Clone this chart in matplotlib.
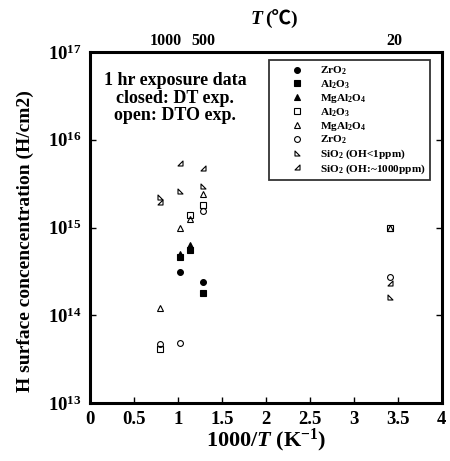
import matplotlib
matplotlib.use("Agg")
import matplotlib.pyplot as plt
from matplotlib.path import Path
from matplotlib.ticker import FixedLocator, NullLocator

plt.rcParams['font.family'] = ['Liberation Serif', 'Noto Sans CJK JP', 'DejaVu Sans']
plt.rcParams['font.weight'] = 'bold'
plt.rcParams['axes.labelweight'] = 'bold'
plt.rcParams['mathtext.fontset'] = 'custom'
plt.rcParams['mathtext.rm'] = 'Liberation Serif:bold'
plt.rcParams['mathtext.it'] = 'Liberation Serif:italic:bold'
plt.rcParams['mathtext.bf'] = 'Liberation Serif:bold'

# ---- data (1000/T in K^-1, H surface concentration in H/cm2) ----
zro2_dt_x = [1.02, 1.14, 1.29]
zro2_dt_y = [3.1e14, 5.6e14, 2.4e14]
al2o3_dt_x = [1.02, 1.14, 1.29]
al2o3_dt_y = [4.6e14, 5.5e14, 1.8e14]
mgal_dt_x = [1.02, 1.14]
mgal_dt_y = [5.0e14, 6.3e14]

al2o3_dto_x = [0.79, 1.14, 1.29, 3.41]
al2o3_dto_y = [4.1e13, 1.4e15, 1.8e15, 1.0e15]
mgal_dto_x = [0.79, 1.02, 1.14, 1.29, 3.41]
mgal_dto_y = [1.2e14, 1.0e15, 1.25e15, 2.4e15, 1.0e15]
zro2_dto_x = [0.79, 1.02, 1.29, 3.41]
zro2_dto_y = [4.7e13, 4.8e13, 1.55e15, 2.7e14]
sio2_low_x = [0.79, 1.02, 1.29, 3.41]
sio2_low_y = [2.2e15, 2.6e15, 3.0e15, 1.6e14]
sio2_high_x = [0.79, 1.02, 1.29, 3.41]
sio2_high_y = [1.95e15, 5.5e15, 4.8e15, 2.3e14]

top_labels = ['1000', '500', '20']
top_label_pos = [0.86, 1.29, 3.46]

# right-triangle markers
tri_bl = Path([(-1, -1), (-1, 1), (1, -1), (-1, -1)],
              [Path.MOVETO, Path.LINETO, Path.LINETO, Path.CLOSEPOLY])
tri_br = Path([(1, -1), (1, 1), (-1, -1), (1, -1)],
              [Path.MOVETO, Path.LINETO, Path.LINETO, Path.CLOSEPOLY])

fig = plt.figure(figsize=(4.5, 4.61), dpi=100)
ax = fig.add_axes([0.2, 0.126, 0.782, 0.761])

ms = 4.2
mew = 0.8
series = [
    (zro2_dt_x, zro2_dt_y, 'o', 'k', ms, r'$\mathregular{ZrO_2}$'),
    (al2o3_dt_x, al2o3_dt_y, 's', 'k', ms, r'$\mathregular{Al_2O_3}$'),
    (mgal_dt_x, mgal_dt_y, '^', 'k', ms, r'$\mathregular{MgAl_2O_4}$'),
    (al2o3_dto_x, al2o3_dto_y, 's', 'none', ms, r'$\mathregular{Al_2O_3}$'),
    (mgal_dto_x, mgal_dto_y, '^', 'none', ms, r'$\mathregular{MgAl_2O_4}$'),
    (zro2_dto_x, zro2_dto_y, 'o', 'none', ms, r'$\mathregular{ZrO_2}$'),
    (sio2_low_x, sio2_low_y, tri_bl, 'none', ms - 0.6, r'$\mathregular{SiO_2}$ (OH<1ppm)'),
    (sio2_high_x, sio2_high_y, tri_br, 'none', ms - 0.6, r'$\mathregular{SiO_2}$ (OH:~1000ppm)'),
]
handles = []
for x, y, m, fc, s, lab in series:
    h, = ax.plot(x, y, linestyle='none', marker=m, markersize=s,
                 markerfacecolor=fc, markeredgecolor='k', markeredgewidth=mew,
                 label=lab)
    handles.append(h)

ax.set_yscale('log')
ax.set_xlim(0, 4)
ax.set_ylim(1e13, 1e17)
ax.xaxis.set_major_locator(FixedLocator([0, 0.5, 1, 1.5, 2, 2.5, 3, 3.5, 4]))
ax.set_xticklabels(['0', '0.5', '1', '1.5', '2', '2.5', '3', '3.5', '4'])
ax.yaxis.set_major_locator(FixedLocator([1e13, 1e14, 1e15, 1e16, 1e17]))
ax.yaxis.set_minor_locator(NullLocator())
ax.set_yticklabels([r'$\mathregular{10^{13}}$', r'$\mathregular{10^{14}}$',
                    r'$\mathregular{10^{15}}$', r'$\mathregular{10^{16}}$',
                    r'$\mathregular{10^{17}}$'])
ax.tick_params(which='major', direction='in', length=4, width=1,
               top=True, right=True, labelsize=13.5, pad=6)
for sp in ax.spines.values():
    sp.set_linewidth(2.2)

ax.set_xlabel(r'1000/$\mathit{T}$ (K$^{\mathregular{-1}}$)', fontsize=16,
              fontweight='bold', labelpad=-1)
ax.set_ylabel('H surface concencentration (H/cm2)', fontsize=14,
              fontweight='bold')
ax.yaxis.set_label_coords(-0.16, 0.46)

# top temperature axis labels
ax2 = ax.twiny()
ax2.set_xlim(ax.get_xlim())
ax2.set_xticks(top_label_pos)
ax2.set_xticklabels(top_labels)
ax2.tick_params(axis='x', length=0, labelsize=11.5, pad=2)
for sp in ax2.spines.values():
    sp.set_visible(False)

# top axis title: italic T followed by (℃) in plain text
fig.text(262 / 450, 1 - 19 / 461, 'T', fontsize=14, fontweight='bold',
         fontstyle='italic', ha='right', va='center')
fig.text(265 / 450, 1 - 19 / 461, '(℃)', fontsize=14, fontweight='bold',
         ha='left', va='center')

ax.text(0.97, 5.9e16, '1 hr exposure data\nclosed: DT exp.\nopen: DTO exp.',
        ha='center', va='top', fontsize=13, fontweight='bold', linespacing=1.05)

leg = ax.legend(handles=handles, loc='upper right', bbox_to_anchor=(0.967, 0.977),
                fontsize=8.1, frameon=True, fancybox=False, edgecolor='k',
                labelspacing=0.1, handlelength=4.1, handletextpad=0.0,
                borderpad=0.4, borderaxespad=0)
for t in leg.get_texts():
    t.set_fontweight('bold')
leg.get_frame().set_linewidth(1.3)

fig.savefig('out.png', dpi=100)
